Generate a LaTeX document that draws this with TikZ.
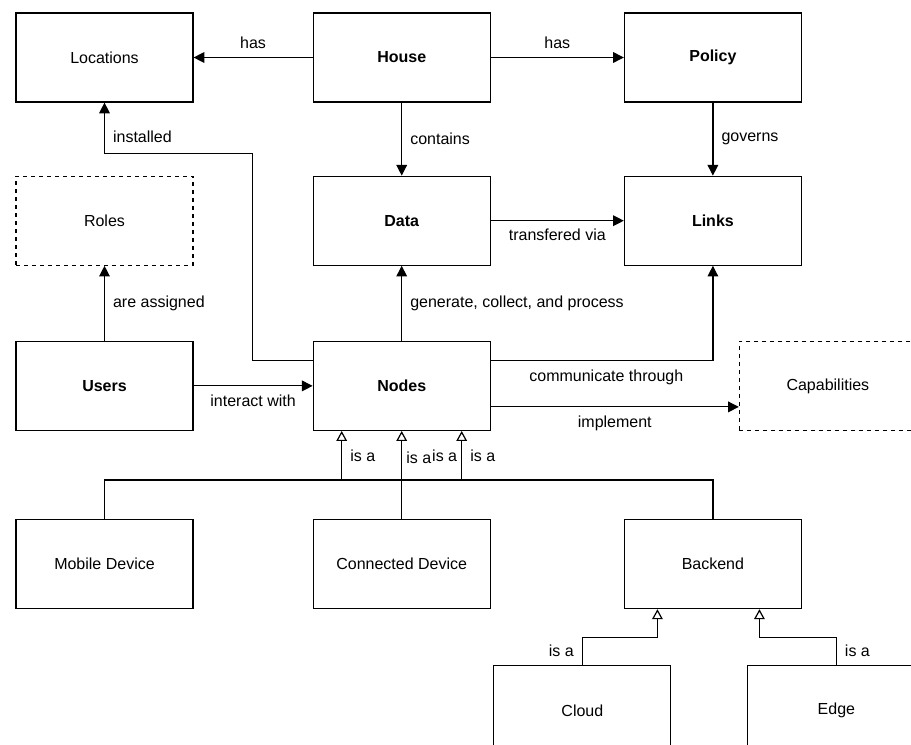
\documentclass[tikz,border=0pt]{standalone}
\usepackage{fontspec}
\setmainfont{Liberation Sans}
\usetikzlibrary{positioning,arrows.meta}

\begin{document}
\begin{tikzpicture}[x=0.75pt, y=0.75pt,
    font=\fontsize{12}{14}\selectfont, line width=0.9pt,
    box/.style={draw, minimum width=132.75pt, minimum height=66.75pt, inner sep=0pt},
    dbox/.style={box, dash pattern=on 3pt off 3pt},
    rel/.style={-{Triangle[length=8pt,width=8pt]}},
    isa/.style={-{Triangle[open,length=7.5pt,width=8pt]}},
    lbl/.style={inner sep=6pt}]
    \clip (0,0) rectangle (911,-745);

    \node(Locations) [box] at (104.5,-57.5) {Locations};
    \node(House) [box, right=89.25pt of Locations]{\textbf{House}};
    \node(Policy) [box, right=99.75pt of House]{\textbf{Policy}};

    \node(Roles) [dbox, below=54.75pt of Locations]{Roles};
    \node(Data) [box, below=54.75pt of House]{\textbf{Data}};
    \node(Links) [box, below=54.75pt of Policy]{\textbf{Links}};

    \node(Users) [box, below=56.25pt of Roles]{\textbf{Users}};
    \node(Nodes) [box, below=56.25pt of Data]{\textbf{Nodes}};
    \node(Capabilities) [dbox, right=186pt of Nodes]{Capabilities};

    \node(Mobile) [box, below=66pt of Users]{Mobile Device};
    \node(Connected) [box, below=66pt of Nodes]{Connected Device};
    \node(Backend) [box, right=99.75pt of Connected]{Backend};
    \node(Cloud) [box, below=42pt of Backend, xshift=-97.9pt]{Cloud};
    \node(Edge) [box, below=42pt of Backend, xshift=92.6pt]{Edge};

    \coordinate(implfrom) at ([yshift=-15.75pt]Nodes.east);

    \draw[rel] (House) -- node[lbl, above]{has} (Locations);
    \draw[rel] (House) -- node[lbl, above]{has} (Policy);
    \draw[rel] (House) -- node[lbl, right]{contains} (Data);
    \draw[rel] (Policy) -- node[lbl, right]{governs} (Links);
    \draw[rel] (Data) -- node[lbl, below]{transfered via} (Links);
    \draw[rel] (Users) -- node[lbl, right]{are assigned} (Roles);
    \draw[rel] (Users) -- node[lbl, below]{interact with} (Nodes);
    \draw[rel] (Nodes) -- node[lbl, right]{generate, collect, and process} (Data);
    \draw[rel] ([yshift=18.75pt]Nodes.west) -- ++(-45pt,0)
        |- ([yshift=-38.25pt]Locations.south) -- node[lbl, right, pos=0.33]{installed} (Locations.south);
    \draw[rel] ([yshift=18.75pt]Nodes.east) -| node[lbl, below, pos=0.26]{communicate through} (Links.south);
    \draw[rel] (implfrom) -- node[lbl, below]{implement} (implfrom -| Capabilities.west);

    \draw[isa] (Mobile.north) |- ([xshift=45pt, yshift=-36.75pt]Nodes.south)
        -- node[left, inner sep=3pt]{is a} node[lbl, right]{is a} ([xshift=45pt]Nodes.south);
    \draw[isa] (Connected) -- node[right, inner sep=3pt, pos=0.69]{is a} (Nodes);
    \draw[isa] (Backend.north) |- ([xshift=-45pt, yshift=-36.75pt]Nodes.south)
        -- node[lbl, right]{is a} ([xshift=-45pt]Nodes.south);
    \draw[isa] (Cloud.north) node[lbl, above left]{is a}
        |- ([xshift=-41.6pt, yshift=-21pt]Backend.south) -- ([xshift=-41.6pt]Backend.south);
    \draw[isa] (Edge.north) node[lbl, above right]{is a}
        |- ([xshift=34.9pt, yshift=-21pt]Backend.south) -- ([xshift=34.9pt]Backend.south);
  \end{tikzpicture}
\end{document}
